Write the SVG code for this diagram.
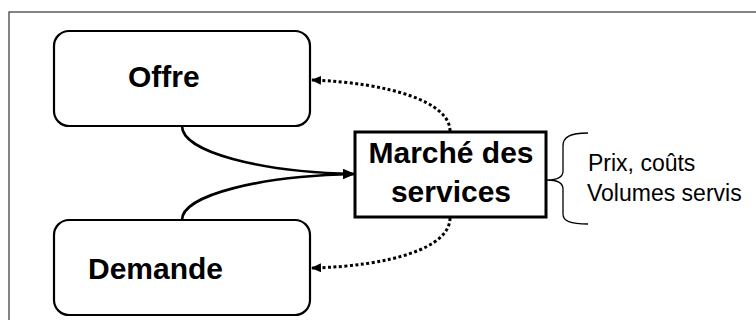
<svg xmlns="http://www.w3.org/2000/svg" width="756" height="320" viewBox="0 0 756 320">
<defs>
<style>
.frame{fill:none;stroke:#333;stroke-width:1.2}
.rbox{fill:#fff;stroke:#000;stroke-width:2.2}
.mbox{fill:#fff;stroke:#000;stroke-width:3}
.big{font-family:"Liberation Sans",Arial,sans-serif;font-weight:bold;font-size:30px;fill:#000}
.small{font-family:"Liberation Sans",Arial,sans-serif;font-size:23px;fill:#000}
.solid{fill:none;stroke:#000;stroke-width:2.6}
.dot{fill:none;stroke:#000;stroke-width:3;stroke-dasharray:3 2.5}
.brace{fill:none;stroke:#000;stroke-width:1.3}
</style>
<marker id="ah" markerWidth="12" markerHeight="10" refX="11" refY="5" orient="auto" markerUnits="userSpaceOnUse">
<path d="M0,0 L12,5 L0,10 Z" fill="#000"/>
</marker>
<marker id="ahs" markerWidth="10" markerHeight="9" refX="9" refY="4.5" orient="auto" markerUnits="userSpaceOnUse">
<path d="M0,0 L10,4.5 L0,9 Z" fill="#000"/>
</marker>
</defs>
<rect class="frame" x="9" y="12" width="760" height="330"/>
<g id="connectors">
<path class="solid" d="M182,126 C182,152 260,172 354,174" marker-end="url(#ah)"/>
<path class="solid" d="M182,220 C182,195 260,176 354,174" marker-end="url(#ah)"/>
<path class="dot" d="M450,131 C450,102 390,83 312,80" marker-end="url(#ahs)"/>
<path class="dot" d="M450,218 C450,248 390,266 312,268" marker-end="url(#ahs)"/>
</g>
<g id="offre">
<rect class="rbox" x="54" y="31" width="256" height="95" rx="15"/>
<text class="big" x="128" y="87">Offre</text>
</g>
<g id="demande">
<rect class="rbox" x="54" y="220" width="256" height="95" rx="15"/>
<text class="big" x="88" y="279">Demande</text>
</g>
<g id="marche">
<rect class="mbox" x="355" y="132" width="191" height="85"/>
<text class="big" x="451" y="163" text-anchor="middle">Marché des</text>
<text class="big" x="451" y="202" text-anchor="middle">services</text>
</g>
<g id="brace-label">
<path class="brace" d="M588,133 C570,133 563,137 563,146 L563,171 C563,177 558,180 547,180 C558,180 563,183 563,189 L563,214 C563,221 570,224 588,224"/>
<text class="small" x="588" y="171">Prix, coûts</text>
<text class="small" x="587" y="201">Volumes servis</text>
</g>
</svg>
